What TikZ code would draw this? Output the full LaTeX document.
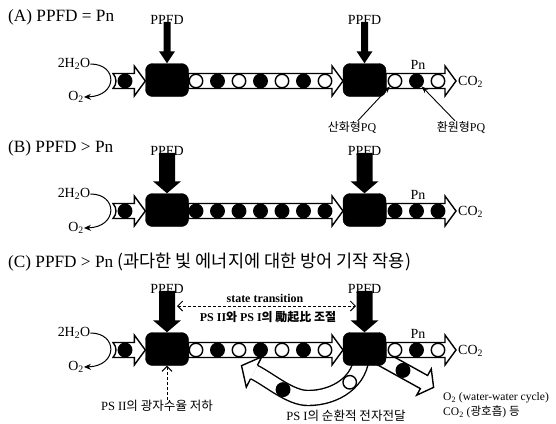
\documentclass[tikz,border=0pt]{standalone}
\usepackage{fontspec}
\setmainfont{Liberation Serif}
\newfontfamily\kr{Noto Sans CJK KR}
\usetikzlibrary{arrows.meta,calc}
\pgfdeclarelayer{bg}
\pgfdeclarelayer{paper}
\pgfsetlayers{paper,bg,main}
% horizontal tube with block arrow head: #1 start, #2 tip
\newcommand\tubeH[2]{\filldraw[tubeline] let \p1=(#1), \p2=(#2) in
  (\x1,\y2+7.5bp) -- (\x2-11bp,\y2+7.5bp) -- (\x2-11bp,\y2+15bp) -- (\x2,\y2)
  -- (\x2-11bp,\y2-15bp) -- (\x2-11bp,\y2-7.5bp) -- (\x1,\y2-7.5bp) -- cycle;}
% same, with concave left end
\newcommand\tubeL[2]{\filldraw[tubeline] let \p1=(#1), \p2=(#2) in
  (\x1,\y2+7.5bp) -- (\x2-11bp,\y2+7.5bp) -- (\x2-11bp,\y2+15bp) -- (\x2,\y2)
  -- (\x2-11bp,\y2-15bp) -- (\x2-11bp,\y2-7.5bp) -- (\x1,\y2-7.5bp)
  .. controls (\x1+4bp,\y2-3bp) and (\x1+4bp,\y2+3bp) .. (\x1,\y2+7.5bp) -- cycle;}
% PPFD arrow from label #1 to box #2, shaft half width #3, head half width #4
\newcommand\ppfd[4]{\fill[black] let \p1=(#1.south), \p2=(#2.north) in
  (\x2-#3,\y1+3bp) -- (\x2-#3,\y2+12bp) -- (\x2-#4,\y2+12bp) -- (\x2,\y2)
  -- (\x2+#4,\y2+12bp) -- (\x2+#3,\y2+12bp) -- (\x2+#3,\y1+3bp) -- cycle;}
\begin{document}
\begin{tikzpicture}[x=1bp,y=-1bp,
  tubeline/.style={draw=black, fill=white, line width=1.4bp, line join=miter},
  circ/.style={circle, draw=black, line width=1.4bp, minimum size=13.5bp, inner sep=0pt, fill=white},
  pbox/.style={rectangle, rounded corners=7bp, fill=black, draw=black, minimum width=43bp, minimum height=33bp, inner sep=0pt},
  ttl/.style={inner sep=0pt, font=\fontsize{17.3}{19}\selectfont},
  lbl/.style={inner sep=0pt, font=\fontsize{14}{16}\selectfont},
  sml/.style={inner sep=0pt, font=\fontsize{12}{14}\selectfont},
  smk/.style={inner sep=0pt, font=\fontsize{12.6}{14}\selectfont},
  smb/.style={inner sep=0pt, font=\fontsize{12}{14}\selectfont\bfseries},
  tiny/.style={inner sep=0pt, font=\fontsize{11.6}{13}\selectfont},
  curv/.style={line width=1bp, -{Stealth[length=7bp,width=6bp]}},
  thinarr/.style={line width=0.9bp, -{Stealth[length=7bp,width=5bp]}},
  dasharr/.style={line width=1bp, dash pattern=on 3bp off 2bp, >={Straight Barb[length=5bp,width=10bp]}},
]
\begin{pgfonlayer}{paper}
\fill[white] (0,0) rectangle (556,423);
\end{pgfonlayer}
\useasboundingbox (0,0) rectangle (556,423);

% ================= Panel A =================
\node[ttl, anchor=west] (tA0) at (8,17) {(A) PPFD = Pn};
\node[pbox] (bA1) at (167,80) {};
\node[pbox] (bA2) at (364.5,80) {};
\coordinate (lA) at (113,81);
\coordinate (tA) at (456,81);
\coordinate (mA1) at (188.5,81);
\coordinate (mA2) at (343,81);
\coordinate (mA3) at (386,81);
\begin{pgfonlayer}{bg}
\tubeL{lA}{bA1.west |- lA}
\tubeH{mA1}{mA2}
\tubeH{mA3}{tA}
\end{pgfonlayer}
\node[circ, fill=black] (cA0) at (125,81) {};
\foreach \i/\x/\f in {1/196/white,2/217.5/black,3/239/white,4/260.5/black,5/282/white,6/303.5/black,7/325/white,8/395/white,9/416.5/black,10/438/white}
  \node[circ, fill=\f] (cA\i) at (\x,81) {};
\node[lbl] (pA1) at (167,20) {PPFD};
\node[lbl] (pA2) at (364.5,20) {PPFD};
\ppfd{pA1}{bA1}{3.5bp}{8bp}
\ppfd{pA2}{bA2}{3.5bp}{8bp}
\node[lbl] (hA) at (74,64) {2H\textsubscript{2}O};
\node[lbl] (oA) at (76,97) {O\textsubscript{2}};
\draw[curv] (hA.east) .. controls (118,64) and (118,96) .. (oA.east);
\node[lbl] (pnA) at (418,65) {Pn};
\node[lbl, anchor=west] (co2A) at (458,82) {CO\textsubscript{2}};
\node[sml] (oxA) at (352,127) {{\kr 산화형}PQ};
\node[sml] (reA) at (461,127) {{\kr 환원형}PQ};
\draw[thinarr] (oxA) -- (cA8);
\draw[thinarr] (reA) -- (cA9);

% ================= Panel B =================
\node[ttl, anchor=west] (tB0) at (8,148) {(B) PPFD > Pn};
\node[pbox] (bB1) at (167,210) {};
\node[pbox] (bB2) at (364.5,210) {};
\coordinate (lB) at (113,211);
\coordinate (tB) at (456,211);
\coordinate (mB1) at (188.5,211);
\coordinate (mB2) at (343,211);
\coordinate (mB3) at (386,211);
\begin{pgfonlayer}{bg}
\tubeL{lB}{bB1.west |- lB}
\tubeH{mB1}{mB2}
\tubeH{mB3}{tB}
\end{pgfonlayer}
\node[circ, fill=black] (cB0) at (125,211) {};
\foreach \i/\x in {1/196,2/217.5,3/239,4/260.5,5/282,6/303.5,7/325,8/395,9/416.5,10/438}
  \node[circ, fill=black] (cB\i) at (\x,211) {};
\node[lbl] (pB1) at (167,151) {PPFD};
\node[lbl] (pB2) at (364.5,151) {PPFD};
\ppfd{pB1}{bB1}{8bp}{14bp}
\ppfd{pB2}{bB2}{8bp}{14bp}
\node[lbl] (hB) at (74,194) {2H\textsubscript{2}O};
\node[lbl] (oB) at (76,228) {O\textsubscript{2}};
\draw[curv] (hB.east) .. controls (118,194) and (118,227) .. (oB.east);
\node[lbl] (pnB) at (418,195) {Pn};
\node[lbl, anchor=west] (co2B) at (458,212) {CO\textsubscript{2}};

% ================= Panel C =================
\node[ttl, anchor=west] (tC0) at (8,262) {(C) PPFD > Pn {\kr\fontsize{17.6}{19}\selectfont (과다한 빛 에너지에 대한 방어 기작 작용)}};
\node[pbox] (bC1) at (167,349) {};
\node[pbox] (bC2) at (364.5,349) {};
\coordinate (lC) at (113,350);
\coordinate (tC) at (456,350);
\coordinate (mC1) at (188.5,350);
\coordinate (mC2) at (343,350);
\coordinate (mC3) at (386,350);
\coordinate (arcS) at (362,352);
\coordinate (arcM) at (308,398);
\coordinate (arcE) at (254,372);
\coordinate (dgS) at (368,351);
\begin{pgfonlayer}{bg}
% cyclic electron flow band
\draw[line width=16.4bp] (arcS) .. controls (362,382) and (335,398) .. (arcM) .. controls (290,398) and (270,380) .. (arcE);
\draw[line width=13.6bp, white] (arcS) .. controls (362,382) and (335,398) .. (arcM) .. controls (290,398) and (270,380) .. (arcE);
\begin{scope}[shift={(arcE)}, rotate=153]
  \filldraw[tubeline] (0,7.5) -- (0,17) -- (14,0) -- (0,-17) -- (0,-7.5);
\end{scope}
% diagonal band
\begin{scope}[shift={(dgS)}, rotate=-29]
  \filldraw[tubeline] (0,7.5) -- (64,7.5) -- (64,15) -- (75,0) -- (64,-15) -- (64,-7.5) -- (0,-7.5) -- cycle;
\end{scope}
\tubeL{lC}{bC1.west |- lC}
\tubeH{mC1}{mC2}
\tubeH{mC3}{tC}
\end{pgfonlayer}
\node[circ, fill=black] (cC0) at (125,350) {};
\foreach \i/\x/\f in {1/196/white,2/217.5/black,3/239/white,4/260.5/black,5/282/white,6/303.5/black,7/325/white,8/395/white,9/416.5/black,10/438/white}
  \node[circ, fill=\f] (cC\i) at (\x,350) {};
\path (arcS) .. controls (362,382) and (335,398) .. (arcM) node[circ, pos=0.42] (cC11) {};
\path (arcM) .. controls (290,398) and (270,380) .. (arcE) node[circ, fill=black, pos=0.45] (cC12) {};
\begin{scope}[shift={(dgS)}, rotate=-29]
  \node[circ, fill=black] (cC13) at (40,0) {};
\end{scope}
\node[lbl] (pC1) at (167,289) {PPFD};
\node[lbl] (pC2) at (364.5,289) {PPFD};
\ppfd{pC1}{bC1}{8bp}{14bp}
\ppfd{pC2}{bC2}{8bp}{14bp}
\node[lbl] (hC) at (74,333) {2H\textsubscript{2}O};
\node[lbl] (oC) at (76,367) {O\textsubscript{2}};
\draw[curv] (hC.east) .. controls (118,333) and (118,366) .. (oC.east);
\node[lbl] (pnC) at (418,334) {Pn};
\node[lbl, anchor=west] (co2C) at (458,351) {CO\textsubscript{2}};
% state transition
\node[smb] (stt) at (265,298) {state transition};
\node[smb] (psr) at (268,317) {PS II{\kr 와} PS I{\kr 의 勵起比 조절}};
\coordinate (stL) at (177,306);
\coordinate (stR) at (356,306);
\draw[dasharr, <->] (stL) -- (stR);
% PS II quantum yield
\node[smk] (psii) at (157,406) {PS II{\kr 의 광자수율 저하}};
\draw[dasharr, ->] (psii.north -| bC1) -- (bC1.south);
% PS I cyclic
\node[smk] (psi) at (346,416) {PS I{\kr 의 순환적 전자전달}};
% outputs
\node[tiny, anchor=west] (ow) at (443,398) {O\textsubscript{2} (water-water cycle)};
\node[tiny, anchor=west] (cw) at (443,412) {CO\textsubscript{2} ({\kr 광호흡}) {\kr 등}};
\end{tikzpicture}
\end{document}
